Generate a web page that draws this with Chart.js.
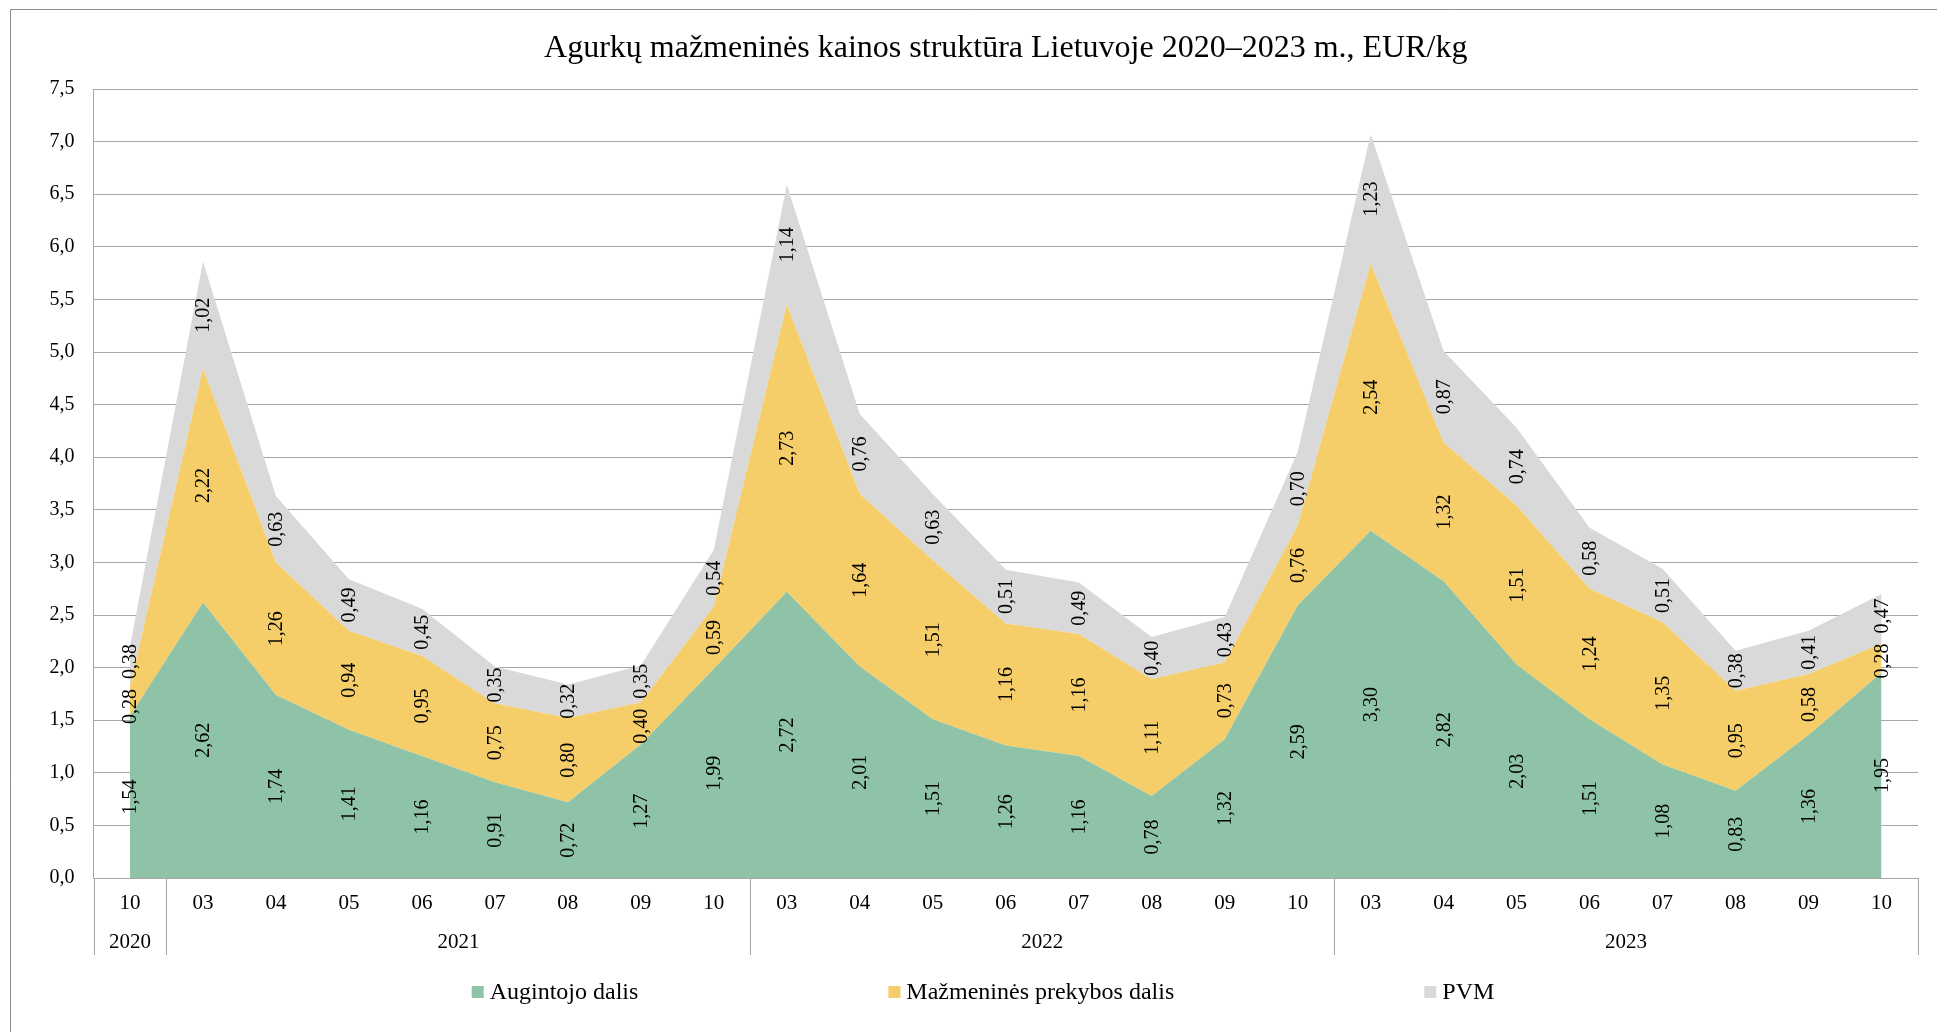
<!DOCTYPE html>
<html>
<head>
<meta charset="utf-8">
<script src="https://cdn.jsdelivr.net/npm/chart.js@4.4.1/dist/chart.umd.min.js"></script>
<style>
  html, body { margin: 0; padding: 0; background: #ffffff; overflow: hidden; }
  canvas { display: block; }
</style>
</head>
<body>
<canvas id="chart" width="1937" height="1032"></canvas>
<script>
// Month labels (first row of the category axis)
const months = ['10',
  '03', '04', '05', '06', '07', '08', '09', '10',
  '03', '04', '05', '06', '07', '08', '09', '10',
  '03', '04', '05', '06', '07', '08', '09', '10'];

// Year labels (second row) and how many months each year covers
const years = ['2020', '2021', '2022', '2023'];
const yearSpans = [1, 8, 8, 8];

// Price components, EUR/kg
const growerShare = [1.54,
  2.62, 1.74, 1.41, 1.16, 0.91, 0.72, 1.27, 1.99,
  2.72, 2.01, 1.51, 1.26, 1.16, 0.78, 1.32, 2.59,
  3.30, 2.82, 2.03, 1.51, 1.08, 0.83, 1.36, 1.95];
const retailShare = [0.28,
  2.22, 1.26, 0.94, 0.95, 0.75, 0.80, 0.40, 0.59,
  2.73, 1.64, 1.51, 1.16, 1.16, 1.11, 0.73, 0.76,
  2.54, 1.32, 1.51, 1.24, 1.35, 0.95, 0.58, 0.28];
const vatShare = [0.38,
  1.02, 0.63, 0.49, 0.45, 0.35, 0.32, 0.35, 0.54,
  1.14, 0.76, 0.63, 0.51, 0.49, 0.40, 0.43, 0.70,
  1.23, 0.87, 0.74, 0.58, 0.51, 0.38, 0.41, 0.47];

const seriesNames = ['Augintojo dalis', 'Mažmeninės prekybos dalis', 'PVM'];
const seriesColors = ['#8ec3a7', '#f5cd69', '#d9d9d9'];

const chartTitle = 'Agurkų mažmeninės kainos struktūra Lietuvoje 2020–2023 m., EUR/kg';
const yMin = 0, yMax = 7.5, yStep = 0.5;

const FONT = "'Liberation Serif', 'Times New Roman', serif";
const LINE_GRAY = '#a6a6a6';

const fmt = v => v.toFixed(2).replace('.', ',');

// Rotated value labels placed in the middle of each stacked band;
// labels of one month that would touch are pushed apart.
const bandLabels = {
  id: 'bandLabels',
  afterDatasetsDraw(chart) {
    const ctx = chart.ctx;
    const xs = chart.scales.x, ys = chart.scales.y;
    const sets = chart.data.datasets;
    ctx.save();
    ctx.font = '20px ' + FONT;
    ctx.fillStyle = '#000';
    ctx.textAlign = 'center';
    ctx.textBaseline = 'middle';
    for (let i = 0; i < months.length; i++) {
      let base = 0;
      const items = [];
      for (let d = 0; d < sets.length; d++) {
        const v = sets[d].data[i];
        const yLo = ys.getPixelForValue(base);
        const yHi = ys.getPixelForValue(base + v);
        base += v;
        const text = fmt(v);
        items.push({ text, y: (yLo + yHi) / 2, len: ctx.measureText(text).width });
      }
      for (let k = 1; k < items.length; k++) {
        const a = items[k - 1], b = items[k];
        const need = (a.len + b.len) / 2 + 10;
        const gap = a.y - b.y;
        if (gap < need) {
          const push = (need - gap) / 2;
          a.y += push;
          b.y -= push;
        }
      }
      const x = xs.getPixelForValue(i);
      items.forEach(it => {
        ctx.save();
        ctx.translate(x, it.y);
        ctx.rotate(-Math.PI / 2);
        ctx.fillText(it.text, 0, 1);
        ctx.restore();
      });
    }
    ctx.restore();
  }
};

// Outer frame, year row with group separators, and the legend
const frameAndGroups = {
  id: 'frameAndGroups',
  afterDraw(chart) {
    const ctx = chart.ctx;
    const xs = chart.scales.x;
    ctx.save();

    // frame
    ctx.strokeStyle = '#8c8c8c';
    ctx.lineWidth = 1;
    ctx.beginPath();
    ctx.moveTo(10.5, chart.height);
    ctx.lineTo(10.5, 9.5);
    ctx.lineTo(chart.width, 9.5);
    ctx.stroke();

    // year groups
    const half = (xs.getPixelForValue(1) - xs.getPixelForValue(0)) / 2;
    const top = xs.top;
    const sepBottom = top + 77;
    ctx.strokeStyle = LINE_GRAY;
    ctx.fillStyle = '#000';
    ctx.font = '21px ' + FONT;
    ctx.textAlign = 'center';
    ctx.textBaseline = 'middle';
    let start = 0;
    const edge = k => Math.round(xs.getPixelForValue(k) - half) + 0.5;
    ctx.beginPath();
    ctx.moveTo(edge(0), top);
    ctx.lineTo(edge(0), sepBottom);
    ctx.stroke();
    years.forEach((yr, g) => {
      const end = start + yearSpans[g];
      const xL = xs.getPixelForValue(start) - half;
      const xR = xs.getPixelForValue(end - 1) + half;
      const xe = Math.round(xR) + 0.5;
      ctx.beginPath();
      ctx.moveTo(xe, top);
      ctx.lineTo(xe, sepBottom);
      ctx.stroke();
      ctx.fillText(yr, (xL + xR) / 2, top + 64);
      start = end;
    });

    // legend
    ctx.font = '24px ' + FONT;
    ctx.textAlign = 'left';
    const box = 12, boxGap = 6, itemGap = 250;
    const widths = seriesNames.map(n => box + boxGap + ctx.measureText(n).width);
    const total = widths.reduce((a, b) => a + b, 0) + itemGap * (seriesNames.length - 1);
    let lx = 983 - total / 2;
    const ly = 992;
    seriesNames.forEach((name, i) => {
      ctx.fillStyle = seriesColors[i];
      ctx.fillRect(lx, ly - box / 2, box, box);
      ctx.fillStyle = '#000';
      ctx.fillText(name, lx + box + boxGap, ly + 1);
      lx += widths[i] + itemGap;
    });

    ctx.restore();
  }
};

const seriesValues = [growerShare, retailShare, vatShare];

new Chart(document.getElementById('chart'), {
  type: 'line',
  data: {
    labels: months,
    datasets: seriesValues.map((vals, i) => ({
      label: seriesNames[i],
      data: vals,
      backgroundColor: seriesColors[i],
      borderColor: 'rgba(0,0,0,0)',
      borderWidth: 0,
      pointRadius: 0,
      pointHoverRadius: 0,
      tension: 0,
      fill: i === 0 ? 'origin' : '-1'
    }))
  },
  options: {
    responsive: false,
    devicePixelRatio: 1,
    animation: false,
    events: [],
    layout: { padding: { left: 10, right: 19, top: 0, bottom: 0 } },
    plugins: {
      legend: { display: false },
      tooltip: { enabled: false },
      title: {
        display: true,
        fullSize: false,
        text: chartTitle,
        color: '#000',
        font: { family: FONT, size: 32, weight: 'normal', lineHeight: 1.2 },
        padding: { top: 29.3, bottom: 21.3 }
      }
    },
    scales: {
      x: {
        offset: true,
        grid: { display: false, drawTicks: false },
        border: { display: true, color: LINE_GRAY, width: 1 },
        ticks: {
          autoSkip: false, maxRotation: 0, padding: 13,
          color: '#000',
          font: { family: FONT, size: 21 }
        },
        afterFit(scale) { scale.height = 154; }
      },
      y: {
        stacked: true,
        min: yMin, max: yMax,
        grid: { color: LINE_GRAY, lineWidth: 1, drawTicks: false },
        border: { display: true, color: LINE_GRAY, width: 1 },
        ticks: {
          stepSize: yStep, padding: 19, color: '#000',
          font: { family: FONT, size: 20 },
          callback: v => Number(v).toFixed(1).replace('.', ',')
        },
        afterFit(scale) { scale.width = 83.5; }
      }
    }
  },
  plugins: [bandLabels, frameAndGroups]
});
</script>
</body>
</html>
